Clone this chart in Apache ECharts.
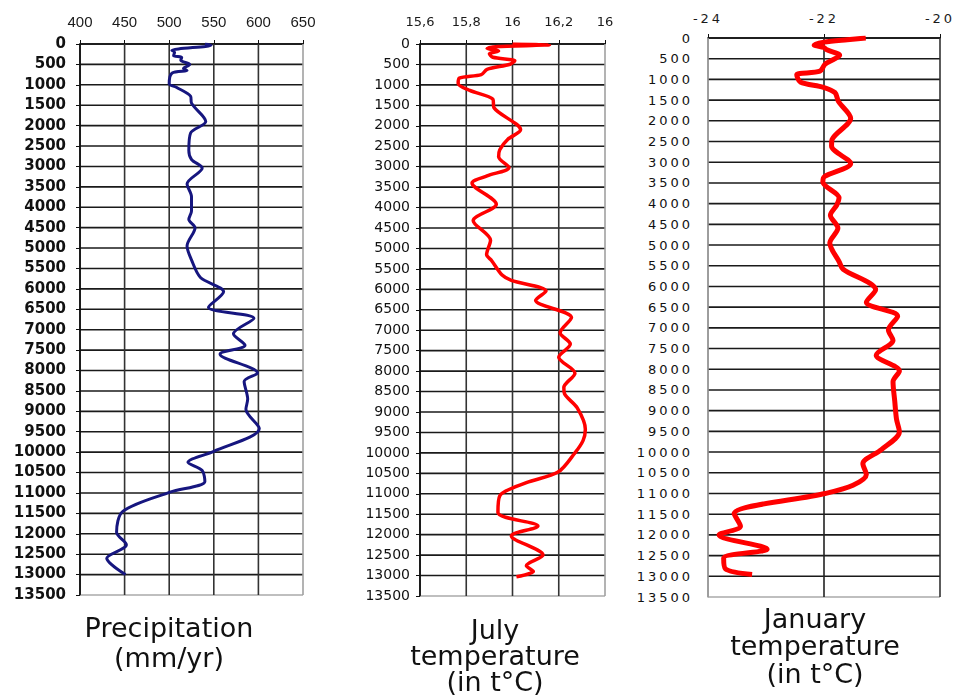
<!DOCTYPE html>
<html><head><meta charset="utf-8">
<script src="https://cdn.jsdelivr.net/npm/echarts@6/dist/echarts.min.js"></script>
<style>
html,body{margin:0;padding:0;background:#fff}
.p{position:absolute;top:0;height:700px}
#p1{left:0;width:330px}
#p2{left:330px;width:300px}
#p3{left:630px;width:331px;height:610px}
#p3t{position:absolute;left:630px;top:600px;width:331px;height:100px}
#p3 text{letter-spacing:3px}
</style></head><body>
<div id="p1" class="p"></div><div id="p2" class="p"></div><div id="p3" class="p"></div><div id="p3t"></div>
<script>
// ---- axis ticks and tick labels ----
const depthTicks = [0,500,1000,1500,2000,2500,3000,3500,4000,4500,5000,5500,6000,6500,7000,7500,8000,8500,9000,9500,10000,10500,11000,11500,12000,12500,13000,13500];
const precipTicks = [400,450,500,550,600,650];
const precipTickLabels = ['400','450','500','550','600','650'];
const julyTicks = [15.6,15.8,16.0,16.2,16.4];
const julyTickLabels = ['15,6','15,8','16','16,2','16'];
const janTicks = [-24,-22,-20];
const janTickLabels = ['-24','-22','-20'];

// ---- titles ----
const precipTitle = ['Precipitation','(mm/yr)'];
const julyTitle = ['July','temperature','(in t°C)'];
const janTitle = ['January','temperature','(in t°C)'];

// ---- Precipitation (mm/yr) vs depth ----
const precipDepth = [0,30,155,200,285,330,400,500,600,650,715,975,1060,1280,1450,1900,2180,2610,2830,3040,3430,3740,4090,4300,4500,4950,5290,5720,6070,6450,6720,7100,7380,7600,8060,8270,8700,8950,9420,9980,10250,10450,10720,10980,11450,11960,12270,12600,13000];
const precipValue = [540,547,503,506,505,514,513,523,516,520,503,500,508,524,525,541,524,522,525,537,520,525,525,522,529,520,525,535,561,544,595,572,585,557,599,584,588,586,601,550,521,537,540,501,448,441,452,430,451];

// ---- July temperature vs depth ----
const julyDepth = [0,20,60,110,170,240,325,410,495,620,750,835,965,1135,1350,1560,2100,2330,2585,2755,3020,3225,3400,3920,4320,4800,5150,5300,5650,5780,6040,6270,6690,7060,7340,7660,8050,8400,8555,8900,9420,9700,10000,10470,10730,11050,11460,11790,12030,12500,12760,12900,13030];
const julyValue = [16.0,16.16,15.94,15.89,15.94,15.90,15.915,16.01,15.99,15.89,15.865,15.77,15.765,15.815,15.915,15.92,16.035,15.98,15.945,15.94,15.985,15.89,15.825,15.93,15.83,15.905,15.888,15.91,15.955,15.995,16.145,16.10,16.255,16.206,16.25,16.20,16.27,16.222,16.225,16.28,16.315,16.305,16.27,16.197,16.06,15.945,15.937,16.11,15.995,16.132,16.06,16.09,16.017];

// ---- January temperature vs depth ----
const janDepth = [0,40,100,170,230,285,415,500,630,800,890,1060,1190,1320,1535,1940,2450,2610,3030,3345,3475,3860,4035,4280,4590,4950,5400,5585,6080,6380,6720,7050,7300,7660,8040,8300,8775,9205,9510,9940,10280,10540,10800,11000,11490,11790,12000,12345,12560,12820,12955];
const janValue = [-21.28,-21.6,-22.0,-22.17,-22.0,-21.95,-21.73,-21.81,-21.98,-22.07,-22.47,-22.41,-22.01,-21.81,-21.75,-21.54,-21.86,-21.87,-21.54,-21.99,-22.02,-21.74,-21.78,-21.89,-21.76,-21.90,-21.74,-21.67,-21.11,-21.27,-20.73,-20.89,-20.81,-21.10,-20.70,-20.81,-20.78,-20.75,-20.70,-21.01,-21.33,-21.27,-21.50,-21.98,-23.55,-23.44,-23.81,-22.98,-23.73,-23.70,-23.24];

const zip = (d, v) => d.map((y, i) => [v[i], y]);
const D_MIN = depthTicks[0], D_MAX = depthTicks[depthTicks.length - 1];

function xa(c) {
  return {type:'value', gridIndex:0, position:'top', min:c.ticks[0], max:c.ticks[c.ticks.length-1], interval:c.interval,
    axisLine:{show:true, lineStyle:{color:'#111', width:1.6}},
    axisTick:{show:true, length:4},
    axisLabel:{margin:c.lm, fontSize:c.ls, fontFamily:c.lf, color:'#1a1a1a', formatter:(v, i) => c.labels[i]},
    splitLine:{show:false}};
}
function ya(c) {
  return {type:'value', gridIndex:0, inverse:true, min:D_MIN, max:D_MAX, interval:500,
    axisLine:{show:true, lineStyle:{color:c.axis, width:1.5}},
    axisTick:{show:c.tick, length:4},
    axisLabel:{margin:c.ym, fontSize:c.ys, fontFamily:'DejaVu Sans', fontWeight:c.yw, color:'#111', formatter:v => String(v)},
    splitLine:{show:false}};
}
// grid rules drawn as plain two-point lines through the axes' scales
function ruleSeries(c) {
  const xmin = c.ticks[0], xmax = c.ticks[c.ticks.length-1];
  const s = [];
  depthTicks.forEach((d, i) => {
    const last = i === depthTicks.length - 1;
    s.push({type:'line', data:[[xmin, d], [xmax, d]], showSymbol:false, silent:true, clip:false, z:1,
      lineStyle:{color: last ? '#aaaaaa' : (i === 0 ? '#111' : '#1a1a1a'), width: 1.6}});
  });
  c.ticks.forEach((x, i) => {
    const first = i === 0, last = i === c.ticks.length - 1;
    if (first && !c.showFirstRule) return;
    s.push({type:'line', data:[[x, D_MIN], [x, D_MAX]], showSymbol:false, silent:true, clip:false, z:1,
      lineStyle:{color: last ? c.edge : (first ? c.axis : c.grid), width: 1.6}});
  });
  return s;
}
function titles(lines, cx, ys) {
  return lines.map((t, i) => ({type:'text', x:cx, y:ys[i],
    style:{text:t, fill:'#111', font:'27px "DejaVu Sans"', align:'center', verticalAlign:'middle'}}));
}
function render(id, c, renderer) {
  const ch = echarts.init(document.getElementById(id), null, renderer ? {renderer} : undefined);
  const opt = {
    animation:false,
    tooltip:{show:false},
    grid:[c.gridBox],
    xAxis:[xa(c)],
    yAxis:[ya(c)],
    series: ruleSeries(c).concat([{type:'line', data:c.data, showSymbol:false, smooth:0.3, z:3, silent:true,
      lineStyle:{color:c.color, width:c.width}}])
  };
  if (c.titles) opt.graphic = titles(c.titles, c.tx, c.ty);
  ch.setOption(opt);
  return ch;
}

render('p1', {
  gridBox:{left:80, top:44, width:223, height:551},
  ticks:precipTicks, interval:50, labels:precipTickLabels, lm:14, ls:15, lf:'Liberation Sans', grid:'#333',
  axis:'#111', tick:true, ym:14, ys:15, yw:'bold', edge:'#a0a0a0', showFirstRule:true,
  data:zip(precipDepth, precipValue), color:'#16167f', width:3,
  titles:precipTitle, tx:169, ty:[630, 660]
});
render('p2', {
  gridBox:{left:90, top:44, width:185, height:552},
  ticks:julyTicks, interval:0.2, labels:julyTickLabels, lm:15, ls:13, lf:'DejaVu Sans', grid:'#333',
  axis:'#111', tick:true, ym:10, ys:14, yw:'normal', edge:'#a0a0a0', showFirstRule:true,
  data:zip(julyDepth, julyValue), color:'#ff0000', width:3.5,
  titles:julyTitle, tx:165, ty:[632, 658, 684]
});
render('p3', {
  gridBox:{left:78, top:38, width:232, height:559},
  ticks:janTicks, interval:2, labels:janTickLabels, lm:13, ls:13, lf:'DejaVu Sans', grid:'#222',
  axis:'#999', tick:false, ym:15, ys:13, yw:'normal', edge:'#333', showFirstRule:true,
  data:zip(janDepth, janValue), color:'#ff0000', width:5
}, 'svg');

const t3 = echarts.init(document.getElementById('p3t'));
t3.setOption({animation:false, graphic:titles(janTitle, 185, [21, 48, 76])});
</script></body></html>
